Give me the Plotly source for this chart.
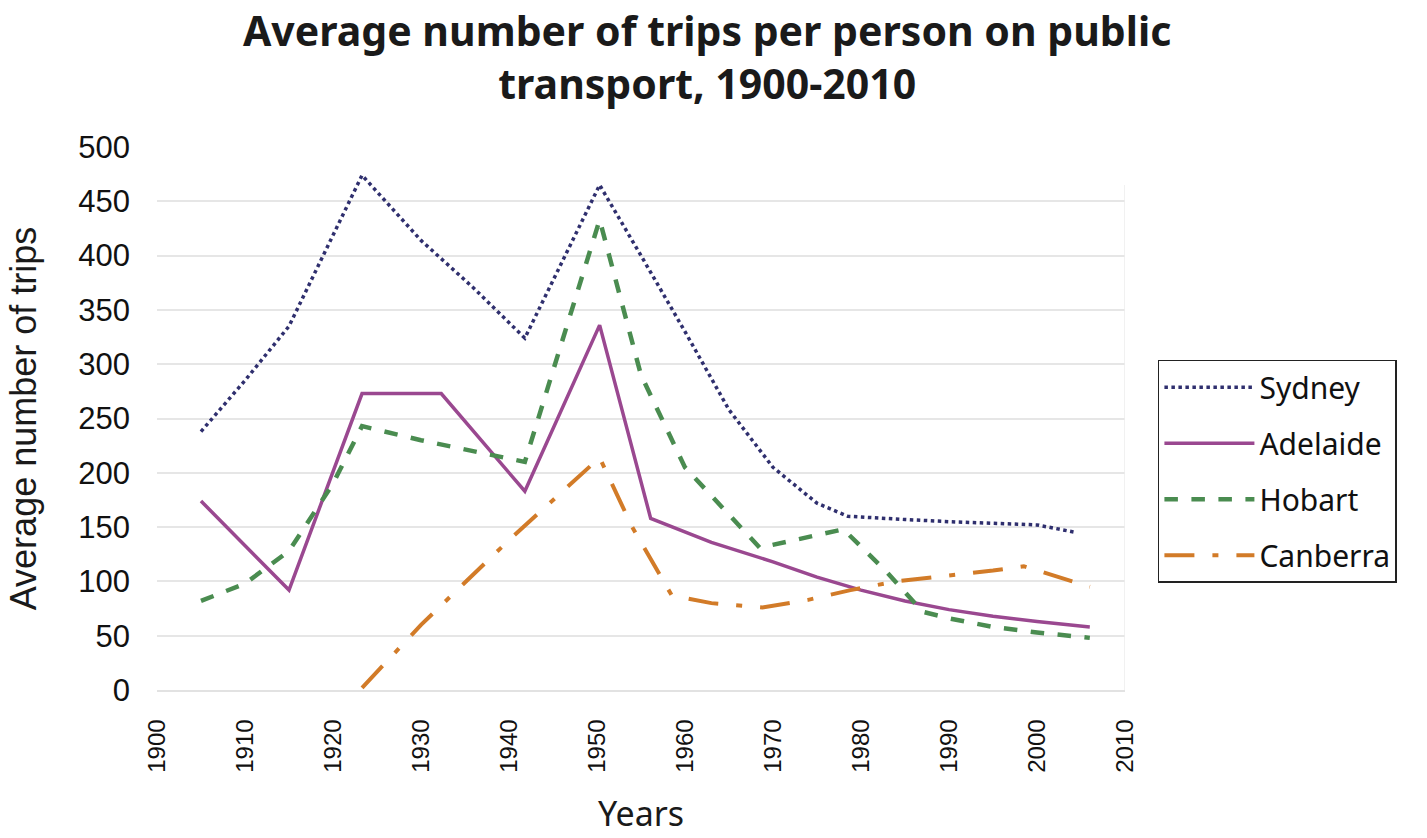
import plotly.graph_objects as go

title_text = "Average number of trips per person on public<br>transport, 1900-2010"

sydney_years = [1905, 1910, 1915, 1923.3, 1930, 1936, 1941.8, 1950.3, 1955, 1960, 1965, 1970, 1975, 1978.5, 1985, 1990, 2000, 2004.5]
sydney_vals = [238, 285, 335, 474, 414, 370, 324, 465, 400, 330, 258, 205, 172, 160, 157, 155, 152, 145]

adelaide_years = [1905, 1915, 1923.3, 1932.3, 1941.8, 1950.3, 1956.1, 1963, 1970, 1975, 1980, 1985, 1990, 1995, 2000, 2006]
adelaide_vals = [174, 92, 273, 273, 183, 336, 158, 136, 118, 104, 92, 82, 74, 68, 63, 58]

hobart_years = [1905, 1910, 1915, 1920, 1923.3, 1930, 1941.8, 1950.3, 1955, 1960, 1968.5, 1974, 1978, 1983, 1987, 1990, 1995, 2000, 2006]
hobart_vals = [82, 98, 128, 190, 243, 230, 210, 433, 290, 205, 131, 141, 148, 108, 72, 66, 58, 53, 48]

canberra_years = [1923.3, 1930, 1940, 1950.3, 1954, 1958.5, 1963, 1968.8, 1974, 1978.8, 1984, 1990, 1995, 1998.5, 2002, 2006]
canberra_vals = [2, 60, 138, 214, 150, 87, 80, 76, 83, 92, 100, 105, 110, 114, 105, 95]

x_ticks = [1900, 1910, 1920, 1930, 1940, 1950, 1960, 1970, 1980, 1990, 2000, 2010]
y_ticks = [0, 50, 100, 150, 200, 250, 300, 350, 400, 450, 500]

fig = go.Figure()
fig.add_trace(go.Scatter(x=sydney_years, y=sydney_vals, name="Sydney", mode="lines", legendgroup="a",
                         line=dict(color="#2f2f6e", width=3.5, dash="dot")))
fig.add_trace(go.Scatter(x=adelaide_years, y=adelaide_vals, name="Adelaide", mode="lines", legendgroup="b",
                         line=dict(color="#9a4890", width=3.5, dash="solid")))
fig.add_trace(go.Scatter(x=hobart_years, y=hobart_vals, name="Hobart", mode="lines", legendgroup="c",
                         line=dict(color="#4a8c50", width=4.5, dash="dash")))
fig.add_trace(go.Scatter(x=canberra_years, y=canberra_vals, name="Canberra", mode="lines", legendgroup="d",
                         line=dict(color="#d27b28", width=4, dash="30px,18px,6px,18px")))

fig.update_layout(
    width=1427, height=838,
    paper_bgcolor="white", plot_bgcolor="white",
    margin=dict(l=157, r=302, t=147, b=148),
    font=dict(family="Liberation Sans", color="#1a1a1a"),
    legend=dict(x=1.034, y=0.608, xanchor="left", yanchor="top",
                bordercolor="#222222", borderwidth=1.5, bgcolor="white",
                font=dict(family="Noto Sans", size=30, color="#111111"),
                itemwidth=90, tracegroupgap=14),
    showlegend=True,
)
fig.add_annotation(text="<b>" + title_text + "</b>", xref="paper", yref="paper", x=0.568, y=1.166,
                   xanchor="center", yanchor="middle", showarrow=False, borderpad=0,
                   font=dict(family="Noto Sans", size=41, color="#1a1a1a"))
fig.update_xaxes(range=[1900, 2010], tickvals=x_ticks, ticktext=[str(v) for v in x_ticks],
                 tickangle=-90, tickfont=dict(family="Liberation Sans", size=24, color="#111111"),
                 showgrid=False, zeroline=False, showline=True, linecolor="#e2e2e2", linewidth=1.5,
                 mirror=False, ticks="", ticklabelstandoff=18,
                 title=dict(text="Years", font=dict(family="Noto Sans", size=34, color="#1a1a1a"), standoff=30))
fig.update_yaxes(range=[0, 500], tickvals=y_ticks, tickfont=dict(family="Liberation Sans", size=31, color="#111111"),
                 showgrid=True, gridcolor="#e6e6e6", gridwidth=1.5, zeroline=False, ticks="",
                 ticklabelstandoff=26, showline=False,
                 title=dict(text="Average number of trips", font=dict(family="Liberation Sans", size=36, color="#1a1a1a"), standoff=30))
fig.add_shape(type="line", xref="x", yref="y", x0=2010, x1=2010, y0=0, y1=465,
              line=dict(color="#ececec", width=1.5))

fig.write_html("out.html")
